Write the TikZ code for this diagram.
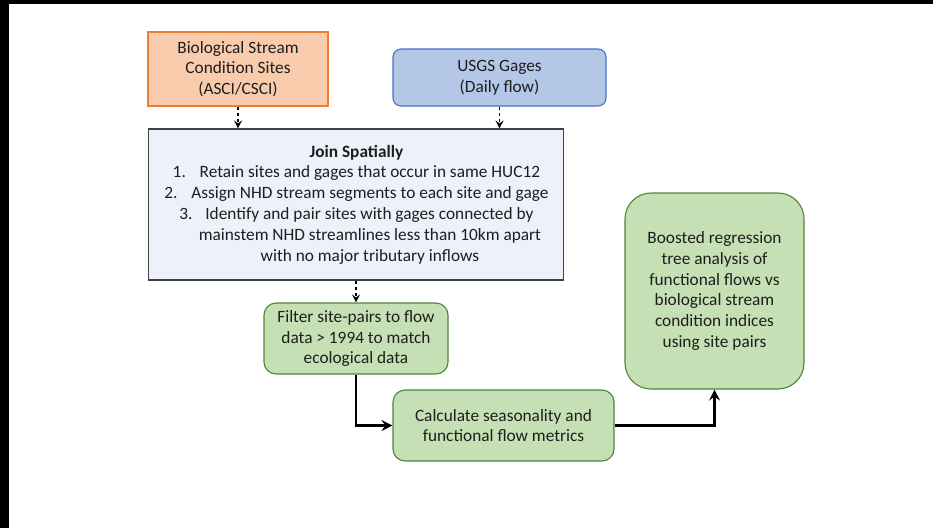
\documentclass[tikz,border=0pt]{standalone}
\usepackage{fontspec}
\setmainfont{Carlito}
\usetikzlibrary{arrows.meta}
\definecolor{biofill}{HTML}{F8CBAD}
\definecolor{bioline}{HTML}{ED7D31}
\definecolor{gagefill}{HTML}{B4C7E7}
\definecolor{gageline}{HTML}{4472C4}
\definecolor{joinfill}{HTML}{EDF1FA}
\definecolor{joinline}{HTML}{404040}
\definecolor{stepfill}{HTML}{C5E0B4}
\definecolor{stepline}{HTML}{548235}
\definecolor{textgray}{HTML}{1E1E1E}
\begin{document}
\begin{tikzpicture}[x=1pt,y=-1pt,
  box/.style={draw, line width=1.1pt, align=center, inner sep=0pt,
    text=textgray, font=\fontsize{17.3}{20.8}\selectfont},
  greenbox/.style={box, fill=stepfill, draw=stepline, rounded corners=12pt},
  dasharrow/.style={line width=1.5pt, dash pattern=on 3.5pt off 2.5pt,
    -{Stealth[length=8pt,width=8pt,inset=3pt]}},
  thickarrow/.style={line width=2.6pt, -{Stealth[length=11pt,width=11pt,inset=4pt]}}]
\useasboundingbox (0,0) rectangle (933,528);
\fill[black] (0,0) rectangle (933,4);
\fill[black] (0,0) rectangle (9,528);
\node[box, fill=biofill, draw=bioline, minimum width=180pt, minimum height=74pt]
  (bio) at (238,69) {Biological Stream\\Condition Sites\\(ASCI/CSCI)};
\node[box, fill=gagefill, draw=gageline, rounded corners=8pt,
  minimum width=213pt, minimum height=57pt]
  (gages) at (499.5,77.5) {USGS Gages\\(Daily flow)};
\node[box, fill=joinfill, draw=joinline, minimum width=415pt, minimum height=151pt]
  (join) at (356.4,204.5) {\textbf{Join Spatially}\\
  \makebox[27pt][l]{1.}Retain sites and gages that occur in same HUC12\\
  \makebox[27pt][l]{2.}Assign NHD stream segments to each site and gage\\
  \makebox[26pt][l]{3.}Identify and pair sites with gages connected by\\
  \hspace*{27pt}mainstem NHD streamlines less than 10km apart\\
  \hspace*{27pt}with no major tributary inflows};
\node[greenbox, minimum width=184pt, minimum height=71pt]
  (filter) at (356,338.5) {Filter site-pairs to flow\\data > 1994 to match\\ecological data};
\node[greenbox, minimum width=221pt, minimum height=71pt]
  (calc) at (503.5,425.5) {Calculate seasonality and\\functional flow metrics};
\node[greenbox, rounded corners=26pt, minimum width=179pt, minimum height=196pt]
  (brt) at (714.5,291) {Boosted regression\\tree analysis of\\functional flows vs\\biological stream\\condition indices\\using site pairs};
\draw[dasharrow] (bio.south) -- (bio.south |- join.north);
\draw[dasharrow] (gages.south) -- (gages.south |- join.north);
\draw[dasharrow] (join.south -| filter.north) -- (filter.north);
\draw[thickarrow] (filter.south) |- (calc.west);
\draw[thickarrow] (calc.east) -| (brt.south);
\end{tikzpicture}
\end{document}
